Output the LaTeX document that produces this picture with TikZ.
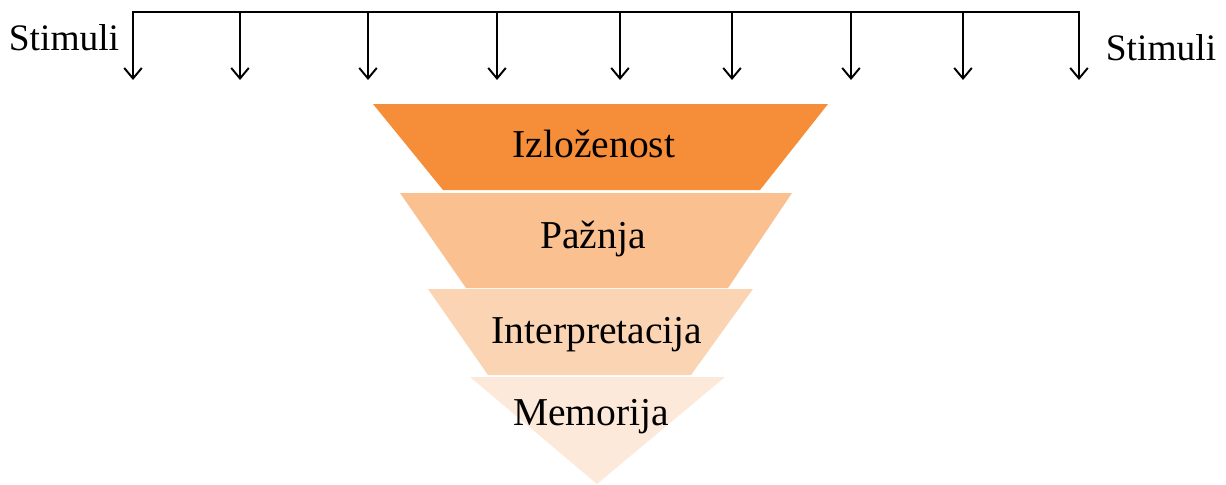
\documentclass[tikz,border=0pt]{standalone}
\usepackage{fontspec}
\setmainfont{Liberation Serif}
\usetikzlibrary{arrows.meta}
\definecolor{levelA}{HTML}{F68D38}
\definecolor{levelB}{HTML}{FAC090}
\definecolor{levelC}{HTML}{FBD4B4}
\definecolor{levelD}{HTML}{FDE9D9}
\begin{document}
\begin{tikzpicture}[x=0.02cm,y=-0.02cm,
		label_style/.style={font=\fontsize{22.5}{26}\selectfont,anchor=base,inner sep=0pt},
		side_style/.style={font=\fontsize{21.3}{25}\selectfont,anchor=base,inner sep=0pt},
		edge_style/.style={draw=black,line width=1.1pt,
			{Straight Barb[length=6pt,width=10pt]}-{Straight Barb[length=6pt,width=10pt]}},
		arrow_style/.style={draw=black,line width=1.1pt,-{Straight Barb[length=6pt,width=10pt]}}]
		
		\useasboundingbox (0,0) rectangle (1226,484);
		
		% funnel levels
		\fill[levelA] (443,190) -- (373,104) -- (828,104) -- (760,190) -- cycle;
		\fill[levelB] (466,288) -- (400,193) -- (792,193) -- (728,288) -- cycle;
		\fill[levelC] (488,375) -- (428,289) -- (753,289) -- (691,375) -- cycle;
		\fill[levelD] (470,377) -- (725,377) -- (597,484) -- cycle;
		
		\node[label_style] (izl) at (594,157) {Izloženost};
		\node[label_style] (paz) at (593,248) {Pažnja};
		\node[label_style] (int) at (597,343) {Interpretacija};
		\node[label_style] (mem) at (591,425) {Memorija};
		
		% stimuli
		\node[side_style] (stl) at (64,50) {Stimuli};
		\node[side_style] (str) at (1161,60) {Stimuli};
		
		\foreach \x [count=\i] in {133,240,368,497,620,732,851,963,1079} {
			\coordinate (s\i) at (\x,12);
			\coordinate (t\i) at (\x,80);
		}
		\draw[edge_style] (t1) -- (s1) -- (s9) -- (t9);
		\foreach \i in {2,...,8}
			\draw[arrow_style] (s\i) -- (t\i);
		
\end{tikzpicture}
\end{document}
